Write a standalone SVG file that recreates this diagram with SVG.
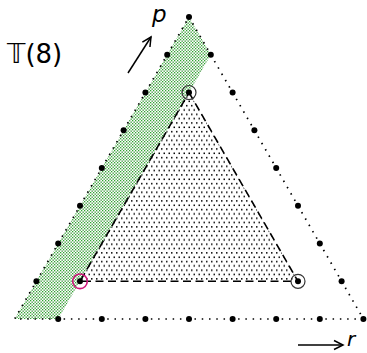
<svg xmlns="http://www.w3.org/2000/svg" width="367" height="353" viewBox="0 0 367 353">
<defs>
<pattern id="pd" width="5" height="8.66" patternUnits="userSpaceOnUse">
<rect x="1" y="1" width="1.5" height="1.5" fill="#000"/>
<rect x="3.5" y="5.33" width="1.5" height="1.5" fill="#000"/>
</pattern>
<pattern id="pg" width="3" height="3" patternUnits="userSpaceOnUse">
<rect x="0" y="0" width="1.3" height="1.3" fill="#2fa52f"/>
<rect x="1.5" y="1.5" width="1.3" height="1.3" fill="#2a8a2a"/>
</pattern>
<marker id="ah" markerWidth="12" markerHeight="12" refX="10" refY="6" orient="auto" markerUnits="userSpaceOnUse">
<path d="M1,1.5 L10,6 L1,10.5" fill="none" stroke="#000" stroke-width="1.5"/>
</marker>
<style>
.big{fill:#000}
.edge{fill:none;stroke:#000;stroke-width:1.7;stroke-dasharray:1.5 5.77;stroke-linecap:butt}
.dash{fill:none;stroke:#000;stroke-width:1.6;stroke-dasharray:8 4.5}
.ring{fill:none;stroke:#333;stroke-width:1.2}
.lbl{font-family:"DejaVu Sans",sans-serif;fill:#000}
</style>
</defs>
<g id="regions">
<polygon id="band" points="189,17 210.8,54.76 58.2,319 14.6,319" fill="url(#pg)"/>
<polygon id="inner" points="189,92.52 80,281.32 298,281.32" fill="url(#pd)"/>
</g>
<g id="connectors">
<polygon class="edge" points="189,17 363.4,319 14.6,319"/>
<polygon class="dash" points="189,92.52 298,281.32 80,281.32"/>
<line x1="128" y1="73" x2="151" y2="37" stroke="#000" stroke-width="1.5" marker-end="url(#ah)"/>
<line x1="298" y1="345" x2="343" y2="345" stroke="#000" stroke-width="1.5" marker-end="url(#ah)"/>
</g>
<g id="nodes">
<g id="left" class="big">
<circle cx="189" cy="17" r="3"/>
<circle cx="167.2" cy="54.76" r="3"/>
<circle cx="145.4" cy="92.52" r="3"/>
<circle cx="123.6" cy="130.28" r="3"/>
<circle cx="101.8" cy="168.04" r="3"/>
<circle cx="80" cy="205.8" r="3"/>
<circle cx="58.2" cy="243.56" r="3"/>
<circle cx="36.4" cy="281.32" r="3"/>
</g>
<g id="right" class="big">
<circle cx="210.8" cy="54.76" r="3"/>
<circle cx="232.6" cy="92.52" r="3"/>
<circle cx="254.4" cy="130.28" r="3"/>
<circle cx="276.2" cy="168.04" r="3"/>
<circle cx="298" cy="205.8" r="3"/>
<circle cx="319.8" cy="243.56" r="3"/>
<circle cx="341.6" cy="281.32" r="3"/>
<circle cx="363.4" cy="319" r="3"/>
</g>
<g id="bottom" class="big">
<circle cx="58.2" cy="319" r="3"/>
<circle cx="101.8" cy="319" r="3"/>
<circle cx="145.4" cy="319" r="3"/>
<circle cx="189" cy="319" r="3"/>
<circle cx="232.6" cy="319" r="3"/>
<circle cx="276.2" cy="319" r="3"/>
<circle cx="319.8" cy="319" r="3"/>
</g>
<g id="v-top"><circle class="big" cx="189" cy="92.52" r="3"/><circle class="ring" cx="189" cy="92.52" r="7"/></g>
<g id="v-right"><circle class="big" cx="298" cy="281.32" r="3"/><circle class="ring" cx="298" cy="281.32" r="7"/></g>
<g id="v-left"><circle class="big" cx="80" cy="281.32" r="3"/><circle cx="80" cy="281.32" r="7.3" fill="none" stroke="#d0177c" stroke-width="1.6"/></g>
</g>
<g id="labels">
<text class="lbl" x="7" y="63" font-size="26">𝕋(8)</text>
<text class="lbl" x="152" y="22" font-size="23" font-style="italic">p</text>
<text class="lbl" x="347" y="346" font-size="20" font-style="italic">r</text>
</g>
</svg>
